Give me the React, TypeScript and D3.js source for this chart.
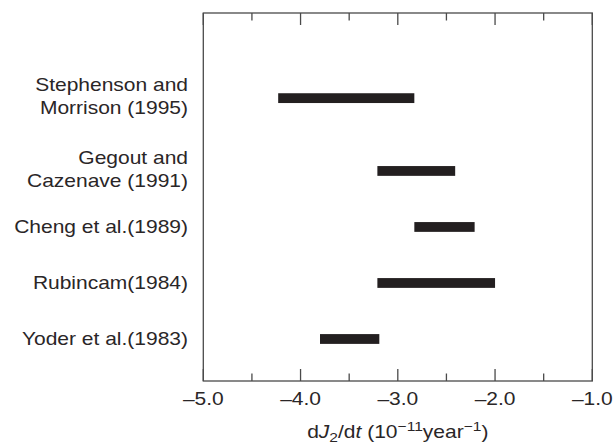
import React from "react";
import * as d3 from "d3";

const studies: string[][] = [
  ["Stephenson and", "Morrison (1995)"],
  ["Gegout and", "Cazenave (1991)"],
  ["Cheng et al.(1989)"],
  ["Rubincam(1984)"],
  ["Yoder et al.(1983)"],
];
const rowSlot = [5.3, 4, 3, 2, 1];
const lowValues = [-4.23, -3.21, -2.83, -3.21, -3.8];
const highValues = [-2.83, -2.41, -2.21, -2.0, -3.19];
const majorTicks = [-5, -4, -3, -2, -1];
const minorTicks = [-4.5, -3.5, -2.5, -1.5];

const W = 614;
const H = 444;
const left = 203.3;
const right = 592.3;
const top = 13;
const bottom = 381;
const FONT = "'Liberation Sans', Arial, Helvetica, sans-serif";
const FS = 17.5;
const SX = 1.2;
const frameColor = "#4a4a4a";
const barColor = "#231f20";
const textColor = "#2a2627";

export default function App() {
  const x = d3.scaleLinear().domain([-5, -1]).range([left, right]);
  const y = d3.scaleLinear().domain([0.25, 6.82]).range([bottom, top]);
  const fmt = (v: number) => (v < 0 ? "\u2013" : "") + d3.format(".1f")(Math.abs(v));
  const lineGap = 22.4;
  const barH = 9.8;

  return (
    <svg
      width={W}
      height={H}
      style={{ position: "absolute", left: 0, top: 0, background: "#fff" }}
      fontFamily={FONT}
    >
      <rect x={0} y={0} width={W} height={H} fill="#fff" />
      {/* bars */}
      {studies.map((s, i) => (
        <rect
          key={"b" + i}
          x={x(lowValues[i])}
          width={x(highValues[i]) - x(lowValues[i])}
          y={y(rowSlot[i]) - barH / 2}
          height={barH}
          fill={barColor}
        />
      ))}
      {/* frame */}
      <rect
        x={left}
        y={top}
        width={right - left}
        height={bottom - top}
        fill="none"
        stroke={frameColor}
        strokeWidth={1.3}
      />
      {/* ticks */}
      {majorTicks.map((t) => (
        <g key={"M" + t} stroke={frameColor} strokeWidth={1.3}>
          <line x1={x(t)} x2={x(t)} y1={top} y2={top + 12} />
          <line x1={x(t)} x2={x(t)} y1={bottom} y2={bottom - 12} />
        </g>
      ))}
      {minorTicks.map((t) => (
        <g key={"m" + t} stroke={frameColor} strokeWidth={1.3}>
          <line x1={x(t)} x2={x(t)} y1={top} y2={top + 7.5} />
          <line x1={x(t)} x2={x(t)} y1={bottom} y2={bottom - 7.5} />
        </g>
      ))}
      {/* tick labels */}
      {majorTicks.map((t) => (
        <text
          key={"l" + t}
          transform={`translate(${x(t)},405) scale(${SX},1)`}
          textAnchor="middle"
          fontSize={FS}
          fill={textColor}
        >
          {fmt(t)}
        </text>
      ))}
      {/* category labels */}
      {studies.map((lines, i) => {
        const c = y(rowSlot[i]);
        const n = lines.length;
        const base0 = c + 6 - ((n - 1) * lineGap) / 2 - (n > 1 ? 1.5 : 0);
        return lines.map((ln, j) => (
          <text
            key={"c" + i + "_" + j}
            transform={`translate(188,${base0 + j * lineGap}) scale(${SX},1)`}
            textAnchor="end"
            fontSize={FS}
            fill={textColor}
          >
            {ln}
          </text>
        ));
      })}
      {/* axis title */}
      <text
        transform={`translate(${(left + right) / 2},438) scale(${SX},1)`}
        textAnchor="middle"
        fontSize={FS}
        fill={textColor}
      >
        <tspan>d</tspan>
        <tspan fontStyle="italic">J</tspan>
        <tspan fontSize={13} dy={4}>2</tspan>
        <tspan dy={-4}>/d</tspan>
        <tspan fontStyle="italic">t</tspan>
        <tspan> (10</tspan>
        <tspan fontSize={13} dy={-7}>{"\u221211"}</tspan>
        <tspan dy={7}>year</tspan>
        <tspan fontSize={13} dy={-7}>{"\u22121"}</tspan>
        <tspan dy={7}>)</tspan>
      </text>
    </svg>
  );
}
